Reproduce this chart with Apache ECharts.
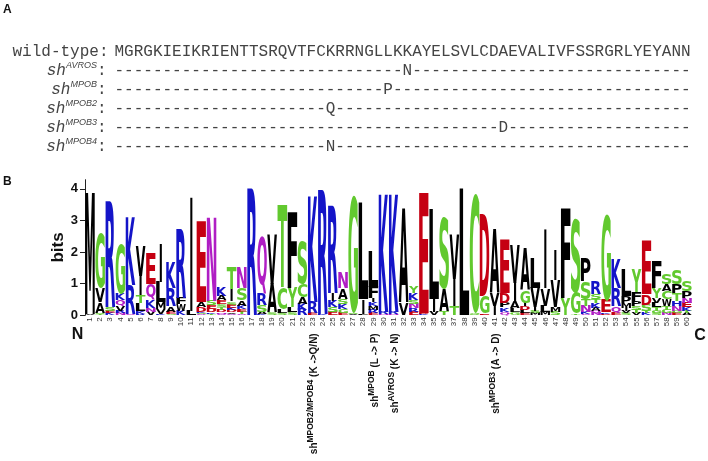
<!DOCTYPE html>
<html><head><meta charset="utf-8">
<script src="https://cdn.jsdelivr.net/npm/echarts@6/dist/echarts.min.js"></script>
<style>html,body{margin:0;padding:0;background:#fff}#c{width:708px;height:461px}</style>
</head><body><div id="c"></div>
<script>
// ---------- Panel A data ----------
const wildType = 'MGRGKIEIKRIENTTSRQVTFCKRRNGLLKKAYELSVLCDAEVALIVFSSRGRLYEYANN';
const mutantNames = ['AVROS', 'MPOB', 'MPOB2', 'MPOB3', 'MPOB4'];
const mutantPos = [31, 29, 23, 41, 23];
const mutantAA = ['N', 'P', 'Q', 'D', 'N'];

// ---------- Panel B data ----------
const positionLabels = ['1','2','3','4','5','6','7','8','9','10','11','12','13','14','15','16','17','18','19','20',
  '21','22','23','24','25','26','27','28','29','30','31','32','33','34','35','36','37','38','39','40',
  '41','42','43','44','45','46','47','48','49','50','51','52','53','54','55','56','57','58','59','60'];
const yTicks = [0, 1, 2, 3, 4];
// letters of each stack, top to bottom
const stackLetters = ['MV','GVAST','RSEK','GKQVRN','KRQ','VITLKR','EQKNV','ILMVK','KRAEG','RFWK',
  'IL','EADKSQ','NSEDKT','KAESTDNQ','TISEKDAQ','NSAKETQ','R','QRSAK','VAS','TCLS',
  'FYLS','SCAKR','KRE','RK','RIKSE','NASKGE','GSA','LIF','LFIKMRE','KRN',
  'KRN','AV','YKSNRE','EDK','LIV','SAT','VIT','L','CGS','DGE',
  'AVI','EDPKQ','VIALG','AGIDLE','LVISM','IVLM','IVMS','FY','SGT','PSTNKQ',
  'RSTKAQN','GEKD','KRQE','LPMIVS','YFPSTV','EDSTK','FYVLTGS','SACWTGN','SPTHNGE','SPNEKTA'];
// information (bits) of each letter, same order
const stackBits = [
  [3.82,0.05],[1.75,0.45,0.35,0.04,0.04],[3.35,0.12,0.08,0.06],[1.6,0.2,0.2,0.15,0.08,0.06],[2.12,0.9,0.05],
  [0.95,0.6,0.25,0.25,0.08,0.05],[1.0,0.5,0.25,0.13,0.1],[1.17,0.65,0.22,0.15,0.04],[0.8,0.58,0.18,0.06,0.04],[2.17,0.2,0.2,0.15],
  [3.6,0.15],[2.55,0.17,0.15,0.04,0.04,0.03],[2.62,0.15,0.12,0.1,0.05,0.04],[0.3,0.15,0.12,0.1,0.08,0.07,0.05,0.05],[0.68,0.38,0.1,0.12,0.06,0.06,0.05,0.05],
  [0.65,0.38,0.17,0.1,0.08,0.07,0.05],[3.98],[1.8,0.38,0.2,0.06,0.05],[1.55,0.9,0.1],[2.6,0.7,0.1,0.08],
  [2.4,0.6,0.15,0.1],[1.38,0.42,0.2,0.18,0.18],[3.35,0.35,0.06],[3.9,0.05],[2.75,0.25,0.2,0.15,0.1],
  [0.5,0.35,0.16,0.16,0.12,0.08],[3.75,0.05,0.04],[3.05,0.45,0.05],[1.15,0.35,0.12,0.12,0.12,0.1,0.08],[3.72,0.06,0.05],
  [3.72,0.06,0.05],[3.0,0.38],[0.22,0.2,0.12,0.15,0.12,0.1],[3.8,0.04,0.03],[2.85,0.4,0.1],
  [2.25,0.72,0.12],[1.4,0.85,0.3],[3.98],[3.78,0.04,0.03],[2.58,0.55,0.05],
  [2.05,0.4,0.28],[1.7,0.32,0.15,0.13,0.12],[1.2,0.6,0.2,0.12,0.1],[1.35,0.4,0.1,0.1,0.1,0.08],[0.95,0.6,0.12,0.08,0.06],
  [1.85,0.55,0.2,0.1],[0.95,0.85,0.15,0.12],[2.85,0.55],[2.35,0.67,0.05],[0.75,0.55,0.2,0.2,0.06,0.05],
  [0.42,0.15,0.12,0.15,0.1,0.08,0.06],[2.75,0.4,0.05,0.04],[0.9,0.57,0.22,0.08],[0.85,0.22,0.15,0.1,0.08,0.06],[0.75,0.3,0.15,0.12,0.1,0.08],
  [1.7,0.33,0.2,0.08,0.06],[0.85,0.32,0.15,0.15,0.1,0.08,0.07],[0.36,0.22,0.25,0.2,0.12,0.12,0.06],[0.48,0.28,0.25,0.16,0.15,0.08,0.06],[0.32,0.2,0.15,0.15,0.1,0.08,0.07]
];
// annotations below the logo
const annoPos = [23, 29, 31, 41];
const annoSup = ['MPOB2/MPOB4', 'MPOB', 'AVROS', 'MPOB3'];
const annoChange = ['(K ->Q/N)', '(L -> P)', '(K -> N)', '(A -> D)'];

// ---------- styling ----------
const GREEN = '#62c92f', BLUE = '#1414c8', RED = '#c50012', PURPLE = '#b01ec4', BLACK = '#000';
const letterColor = {G:GREEN,S:GREEN,T:GREEN,Y:GREEN,C:GREEN,N:PURPLE,Q:PURPLE,K:BLUE,R:BLUE,H:BLUE,D:RED,E:RED};
const colorOf = ch => letterColor[ch] || BLACK;
const LOGO_FONT = 'bold 100px "DejaVu Sans Condensed", "DejaVu Sans"';
const MONO = '"Liberation Mono", "DejaVu Sans Mono", monospace';
const SANS = '"Liberation Sans", Arial, sans-serif';
const TXT = '#444';

// glyph ink bounds relative to (center, middle-baseline) anchor
const glyphCache = {};
function glyph(ch) {
  if (glyphCache[ch]) return glyphCache[ch];
  const S = 260, c = document.createElement('canvas');
  c.width = S; c.height = S;
  const g = c.getContext('2d');
  g.font = LOGO_FONT; g.textAlign = 'center'; g.textBaseline = 'middle'; g.fillStyle = '#000';
  g.fillText(ch, S / 2, S / 2);
  const d = g.getImageData(0, 0, S, S).data;
  let t = S, b = -1, l = S, r = -1;
  for (let y = 0; y < S; y++) for (let x = 0; x < S; x++) {
    if (d[(y * S + x) * 4 + 3] > 110) {
      if (y < t) t = y; if (y > b) b = y; if (x < l) l = x; if (x > r) r = x;
    }
  }
  const box = {top: t - S / 2, bottom: b + 1 - S / 2, left: l - S / 2, right: r + 1 - S / 2};
  glyphCache[ch] = box;
  return box;
}

function renderLogo(params, api) {
  const i = params.dataIndex;
  const letters = stackLetters[i], bits = stackBits[i];
  const cx = api.coord([i, 0])[0];
  const bw = api.size([1, 0])[0];
  const children = [];
  let acc = 0;
  for (let k = letters.length - 1; k >= 0; k--) {
    const ch = letters[k], h = bits[k];
    const yb = api.coord([i, acc])[1], yt = api.coord([i, acc + h])[1];
    acc += h;
    const gb = glyph(ch);
    const w = (ch === 'I' ? 0.22 : 0.94) * bw;
    const sx = w / (gb.right - gb.left), sy = (yb - yt) / (gb.bottom - gb.top);
    children.push({
      type: 'text', x: cx - w / 2 - gb.left * sx, y: yt - gb.top * sy,
      scaleX: sx, scaleY: sy, silent: true,
      style: {text: ch, x: 0, y: 0, font: LOGO_FONT, fill: colorOf(ch), align: 'center', verticalAlign: 'middle'}
    });
  }
  return {type: 'group', children};
}

function renderAnno(params, api) {
  const k = params.dataIndex;
  const p = api.coord([annoPos[k] - 1, 0]);
  return {
    type: 'text', x: p[0], y: p[1] + 18, rotation: Math.PI / 2, silent: true,
    style: {
      text: '{s|sh}{p|' + annoSup[k] + '}{s| ' + annoChange[k] + '}',
      align: 'right', verticalAlign: 'middle',
      rich: {
        s: {font: 'bold 10px ' + SANS, fill: '#111', lineHeight: 13, verticalAlign: 'bottom'},
        p: {font: 'bold 8.5px ' + SANS, fill: '#111', lineHeight: 9, verticalAlign: 'top'}
      }
    }
  };
}

// ---------- panel A graphics ----------
const rowY0 = 51.7, rowStep = 19, seqX = 114.5;
const graphics = [
  {type: 'text', left: 3, top: 4, style: {text: 'A', font: 'bold 12px ' + SANS, fill: '#111'}},
  {type: 'text', left: 3, top: 176, style: {text: 'B', font: 'bold 12px ' + SANS, fill: '#111'}},
  {type: 'text', x: 108.5, y: rowY0, style: {text: 'wild-type:', font: '16px ' + MONO, fill: TXT, align: 'right', verticalAlign: 'middle'}},
  {type: 'text', x: seqX, y: rowY0, style: {text: wildType, font: '16px ' + MONO, fill: TXT, align: 'left', verticalAlign: 'middle'}},
  {type: 'text', x: 77.5, y: 335, style: {text: 'N', font: 'bold 16px ' + SANS, fill: '#111', align: 'center', verticalAlign: 'middle'}},
  {type: 'text', x: 700, y: 336, style: {text: 'C', font: 'bold 16px ' + SANS, fill: '#111', align: 'center', verticalAlign: 'middle'}}
];
mutantNames.forEach((name, r) => {
  const y = rowY0 + (r + 1) * rowStep;
  const seq = wildType.split('').map((c, j) => (j + 1 === mutantPos[r] ? mutantAA[r] : '-')).join('');
  graphics.push({type: 'text', x: 106.5, y: y, style: {
    text: '{s|sh}{p|' + name + '}{c|:}', align: 'right', verticalAlign: 'middle',
    rich: {
      s: {font: 'italic 16px ' + MONO, fill: TXT, lineHeight: 19, verticalAlign: 'middle'},
      p: {font: 'italic 9px ' + SANS, fill: TXT, lineHeight: 13, verticalAlign: 'top'},
      c: {font: '16px ' + MONO, fill: TXT, lineHeight: 19, verticalAlign: 'middle'}
    }}});
  graphics.push({type: 'text', x: seqX, y: y, style: {text: seq, font: '16px ' + MONO, fill: TXT, align: 'left', verticalAlign: 'middle'}});
});

const chart = echarts.init(document.getElementById('c'), null, {renderer: 'canvas'});
chart.setOption({
  animation: false,
  backgroundColor: '#fff',
  grid: {left: 85, right: 16, top: 179.7, bottom: 145.7},
  xAxis: {
    type: 'category', data: positionLabels, boundaryGap: true,
    axisLine: {show: false}, axisTick: {show: false},
    axisLabel: {interval: 0, rotate: 90, fontSize: 8, fontFamily: SANS, color: '#333', margin: 2}
  },
  yAxis: {
    type: 'value', min: 0, max: 4.29, interval: 1,
    name: 'bits', nameLocation: 'middle', nameGap: 18, nameMoveOverlap: false,
    nameTextStyle: {fontSize: 17, fontWeight: 'bold', fontFamily: SANS, color: '#111'},
    axisLine: {show: true, lineStyle: {color: '#222', width: 1}},
    axisTick: {show: true, length: 5, customValues: yTicks, lineStyle: {color: '#222'}},
    axisLabel: {customValues: yTicks, fontSize: 13, fontWeight: 'bold', fontFamily: SANS, color: '#111', margin: 7,
      formatter: v => (Number.isInteger(v) ? String(v) : '')},
    splitLine: {show: false}
  },
  graphic: graphics,
  series: [
    {type: 'custom', renderItem: renderLogo, data: positionLabels.map((_, i) => [i, 0]), silent: true},
    {type: 'custom', renderItem: renderAnno, data: annoPos.map(p => [p - 1, 0]), silent: true}
  ]
});
</script></body></html>
